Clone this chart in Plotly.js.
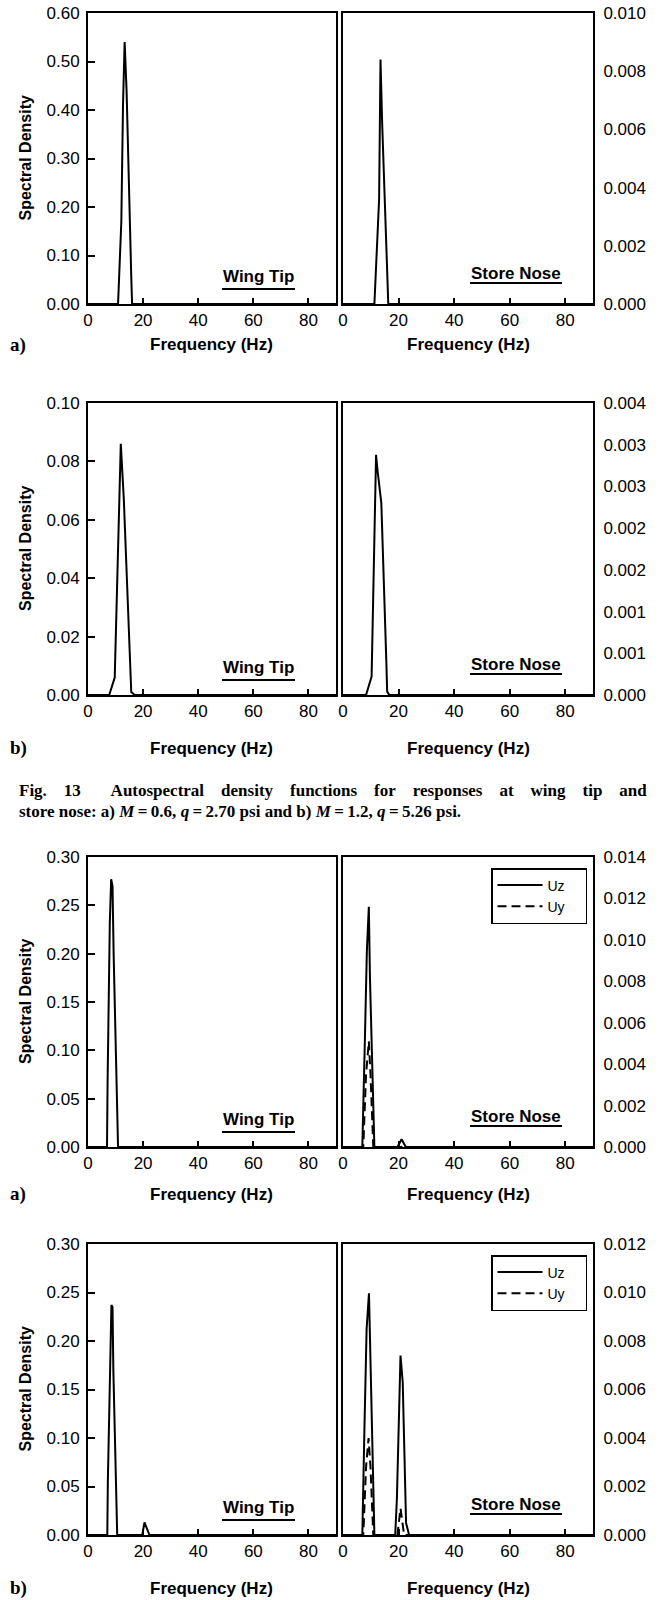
<!DOCTYPE html>
<html>
<head>
<meta charset="utf-8">
<script src="https://cdn.plot.ly/plotly-3.0.1.min.js"></script>
<style>html,body{margin:0;padding:0;background:#fff;}#chart{width:663px;height:1600px;}</style>
</head>
<body>
<div id="chart"></div>
<script>
// ---------------- DATA ----------------
// Fig 13 a) M=0.6 : wing tip / store nose
const wtA_f = [0, 10.9, 12.1, 12.7, 13.3, 14.0, 15.7, 16.0, 90];
const wtA_v = [0, 0, 0.17, 0.41, 0.54, 0.44, 0.056, 0, 0];
const snA_f = [0, 11.3, 13.0, 13.5, 14.1, 16.3, 90];
const snA_v = [0, 0, 0.0036, 0.0084, 0.0062, 0, 0];
// Fig 13 b) M=1.2
const wtB_f = [0, 7.7, 9.7, 11.9, 13.0, 15.1, 15.7, 17.0, 90];
const wtB_v = [0, 0, 0.006, 0.086, 0.067, 0.011, 0.001, 0, 0];
const snB_f = [0, 8.3, 10.3, 11.9, 12.4, 13.8, 15.6, 15.9, 16.7, 90];
const snB_v = [0, 0, 0.00022, 0.00288, 0.0027, 0.0023, 0.0004, 0.00004, 0, 0];
// Fig 14 a)
const wtC_f = [0, 6.9, 7.1, 7.9, 8.4, 8.9, 9.3, 10.9, 90];
const wtC_v = [0, 0, 0.065, 0.23, 0.277, 0.27, 0.20, 0, 0];
const snC_uz_f = [0, 6.95, 7.9, 8.6, 9.3, 9.7, 11.3, 19.6, 21.1, 22.6, 90];
const snC_uz_v = [0, 0, 0.0053, 0.0095, 0.0116, 0.0082, 0, 0, 0.00037, 0, 0];
const snC_uy_f = [0, 7.3, 8.3, 9.3, 9.9, 10.9, 90];
const snC_uy_v = [0, 0, 0.0035, 0.0051, 0.0035, 0, 0];
// Fig 14 b)
const wtD_f = [0, 7.0, 7.2, 8.0, 8.5, 8.9, 9.2, 10.6, 19.7, 20.5, 22.3, 90];
const wtD_v = [0, 0, 0.055, 0.195, 0.237, 0.235, 0.17, 0, 0, 0.013, 0, 0];
const snD_uz_f = [0, 6.96, 7.7, 8.5, 9.35, 9.95, 11.3, 18.8, 19.4, 20.7, 21.5, 22.7, 23.8, 90];
const snD_uz_v = [0, 0, 0.0043, 0.0085, 0.00997, 0.0071, 0, 0, 0.0015, 0.0074, 0.0063, 0.0005, 0, 0];
const snD_uy_f = [0, 7.3, 8.3, 9.2, 9.9, 10.9, 19.6, 20.7, 22.0, 90];
const snD_uy_v = [0, 0, 0.0028, 0.0040, 0.0028, 0, 0, 0.0011, 0, 0];

// axis ranges / ticks
const leftRanges = [[0, 0.60], [0, 0.10], [0, 0.30], [0, 0.30]];
const leftDticks = [0.1, 0.02, 0.05, 0.05];
const rightRanges = [[0, 0.010], [0, 0.0035], [0, 0.014], [0, 0.012]];
const rightDticks = [0.002, 0.0005, 0.002, 0.002];
const rowB_rightTickVals = [0, 0.0005, 0.001, 0.0015, 0.002, 0.0025, 0.003, 0.0035];
const rowB_rightTickText = ["0.000", "0.001", "0.001", "0.002", "0.002", "0.003", "0.003", "0.004"];
const xTickVals = [0, 20, 40, 60, 80];
const panelLetters = ["a)", "b)", "a)", "b)"];
const seriesNames = ["Uz", "Uy"];

// ---------------- LAYOUT ----------------
const W = 663, H = 1600;
const PX = v => v / W;
const PY = v => 1 - v / H;
const SANS = "Liberation Sans, Arial, sans-serif";
const SERIF = "Liberation Serif, Times New Roman, serif";
const rowsPx = [[13, 304], [403, 695], [857, 1147], [1244, 1535]];
const xTitleY = [345, 748, 1194, 1588];
const leftDom = [PX(88), PX(336)];
const rightDom = [PX(343), PX(593)];
const NB = "\u00A0";
const pad = n => NB.repeat(n);

const wingF = [wtA_f, wtB_f, wtC_f, wtD_f];
const wingV = [wtA_v, wtB_v, wtC_v, wtD_v];

const tickFont = {family: SANS, size: 17, color: "black"};
const legendCommon = {x: PX(491), xanchor: "left", yanchor: "top",
  bordercolor: "black", borderwidth: 1.5, bgcolor: "white",
  font: {family: SANS, size: 14, color: "black"}, itemwidth: 45, tracegroupgap: 0};
const layout = {
  width: W, height: H,
  margin: {l: 0, r: 0, t: 0, b: 0},
  paper_bgcolor: "white", plot_bgcolor: "white",
  showlegend: true,
  annotations: [], shapes: [],
  legend: Object.assign({}, legendCommon, {y: PY(868)}),
  legend2: Object.assign({}, legendCommon, {y: PY(1255)})
};
const traces = [];

for (let r = 0; r < 4; r++) {
  const [top, bot] = rowsPx[r];
  const ydom = [PY(bot), PY(top)];
  const li = 2 * r + 1, ri = 2 * r + 2, oi = 9 + r;
  const xCommon = {range: [0, 90], tickvals: xTickVals, ticks: "inside", ticklen: 6, tickwidth: 2,
    tickcolor: "black", showline: true, linecolor: "black", linewidth: 2, mirror: true,
    showgrid: false, zeroline: false, tickfont: tickFont, ticklabelstandoff: 0, fixedrange: true};
  layout["xaxis" + li] = Object.assign({}, xCommon, {domain: leftDom, anchor: "y" + li});
  layout["xaxis" + ri] = Object.assign({}, xCommon, {domain: rightDom, anchor: "y" + ri});
  layout["yaxis" + li] = {domain: ydom, anchor: "x" + li, range: leftRanges[r], dtick: leftDticks[r], tick0: 0,
    tickformat: ".2f", ticks: "inside", ticklen: 7, tickwidth: 2, tickcolor: "black",
    showline: true, linecolor: "black", linewidth: 2, mirror: true, showgrid: false, zeroline: false,
    tickfont: tickFont, ticklabelstandoff: 3, fixedrange: true};
  const rAx = {domain: ydom, anchor: "x" + ri, side: "right", range: rightRanges[r],
    ticks: "", showline: true, linecolor: "black", linewidth: 2, mirror: true, showgrid: false,
    zeroline: false, tickfont: tickFont, ticklabelstandoff: 5, fixedrange: true};
  const oAx = {overlaying: "y" + ri, anchor: "x" + ri, side: "left", range: rightRanges[r],
    ticks: "inside", ticklen: 7, tickwidth: 2, tickcolor: "black", showticklabels: false,
    showline: false, showgrid: false, zeroline: false, fixedrange: true};
  if (r === 1) {
    rAx.tickvals = rowB_rightTickVals; rAx.ticktext = rowB_rightTickText;
    oAx.tickvals = rowB_rightTickVals;
  } else {
    rAx.dtick = rightDticks[r]; rAx.tick0 = 0; rAx.tickformat = ".3f";
    oAx.dtick = rightDticks[r]; oAx.tick0 = 0;
  }
  layout["yaxis" + ri] = rAx;
  layout["yaxis" + oi] = oAx;

  // wing tip trace
  traces.push({x: wingF[r], y: wingV[r], xaxis: "x" + li, yaxis: "y" + li, mode: "lines",
    line: {color: "black", width: 2}, showlegend: false, name: "Wing Tip", hoverinfo: "skip"});

  // text
  layout.annotations.push({text: "<b>Spectral Density</b>", xref: "paper", yref: "paper",
    x: PX(25), y: PY((top + bot) / 2), textangle: -90, showarrow: false,
    font: {family: SANS, size: 16, color: "black"}, xanchor: "center", yanchor: "middle"});
  [212, 468].forEach(cx => layout.annotations.push({text: "<b>Frequency (Hz)</b>", xref: "paper", yref: "paper",
    x: PX(cx), y: PY(xTitleY[r]), showarrow: false, font: {family: SANS, size: 17, color: "black"},
    xanchor: "center", yanchor: "middle"}));
  layout.annotations.push({text: "<b>" + panelLetters[r] + "</b>", xref: "paper", yref: "paper",
    x: PX(8), y: PY(xTitleY[r]), showarrow: false, font: {family: SERIF, size: 19, color: "black"},
    xanchor: "left", yanchor: "middle"});
  layout.annotations.push({text: "<b>Wing Tip</b>", xref: "paper", yref: "paper",
    x: PX(258.5), y: PY(bot - 28), showarrow: false, font: {family: SANS, size: 17, color: "black"},
    xanchor: "center", yanchor: "middle"});
  layout.annotations.push({text: "<b>Store Nose</b>", xref: "paper", yref: "paper",
    x: PX(516), y: PY(bot - 31), showarrow: false, font: {family: SANS, size: 17, color: "black"},
    xanchor: "center", yanchor: "middle"});
  layout.shapes.push({type: "line", xref: "paper", yref: "paper", x0: PX(222), x1: PX(295),
    y0: PY(bot - 15), y1: PY(bot - 15), line: {color: "black", width: 2}});
  layout.shapes.push({type: "line", xref: "paper", yref: "paper", x0: PX(470), x1: PX(562),
    y0: PY(bot - 21), y1: PY(bot - 21), line: {color: "black", width: 2}});
}

// store nose traces
traces.push({x: snA_f, y: snA_v, xaxis: "x2", yaxis: "y2", mode: "lines", line: {color: "black", width: 2},
  showlegend: false, name: "Store Nose", hoverinfo: "skip"});
traces.push({x: snB_f, y: snB_v, xaxis: "x4", yaxis: "y4", mode: "lines", line: {color: "black", width: 2},
  showlegend: false, name: "Store Nose", hoverinfo: "skip"});
traces.push({x: snC_uz_f, y: snC_uz_v, xaxis: "x6", yaxis: "y6", mode: "lines", line: {color: "black", width: 2},
  name: seriesNames[0] + pad(4), legend: "legend", hoverinfo: "skip"});
traces.push({x: snC_uy_f, y: snC_uy_v, xaxis: "x6", yaxis: "y6", mode: "lines",
  line: {color: "black", width: 2, dash: "9px,5px"}, name: seriesNames[1] + pad(4), legend: "legend", hoverinfo: "skip"});
traces.push({x: snD_uz_f, y: snD_uz_v, xaxis: "x8", yaxis: "y8", mode: "lines", line: {color: "black", width: 2},
  name: seriesNames[0] + pad(4), legend: "legend2", hoverinfo: "skip"});
traces.push({x: snD_uy_f, y: snD_uy_v, xaxis: "x8", yaxis: "y8", mode: "lines",
  line: {color: "black", width: 2, dash: "9px,5px"}, name: seriesNames[1] + pad(4), legend: "legend2", hoverinfo: "skip"});

// caption (first line justified to the full width)
const cap1 = ["Fig.", "13" + pad(3), "Autospectral", "density", "functions", "for", "responses", "at", "wing", "tip", "and"];
const TS = "\u2009";
layout.annotations.push({text: "<b>" + cap1.join(pad(4)) + "</b>",
  xref: "paper", yref: "paper", x: PX(17), y: PY(790), showarrow: false, xanchor: "left", yanchor: "middle",
  font: {family: SERIF, size: 17, color: "black"}});
layout.annotations.push({text: "<b>store nose: a) <i>M</i>" + TS + "=" + TS + "0.6, <i>q</i>" + TS + "=" + TS +
  "2.70 psi and b) <i>M</i>" + TS + "=" + TS + "1.2, <i>q</i>" + TS + "=" + TS + "5.26 psi.</b>",
  xref: "paper", yref: "paper", x: PX(17), y: PY(812), showarrow: false, xanchor: "left", yanchor: "middle",
  font: {family: SERIF, size: 17, color: "black"}});

Plotly.newPlot("chart", traces, layout, {staticPlot: true, displayModeBar: false});
</script>
</body>
</html>
